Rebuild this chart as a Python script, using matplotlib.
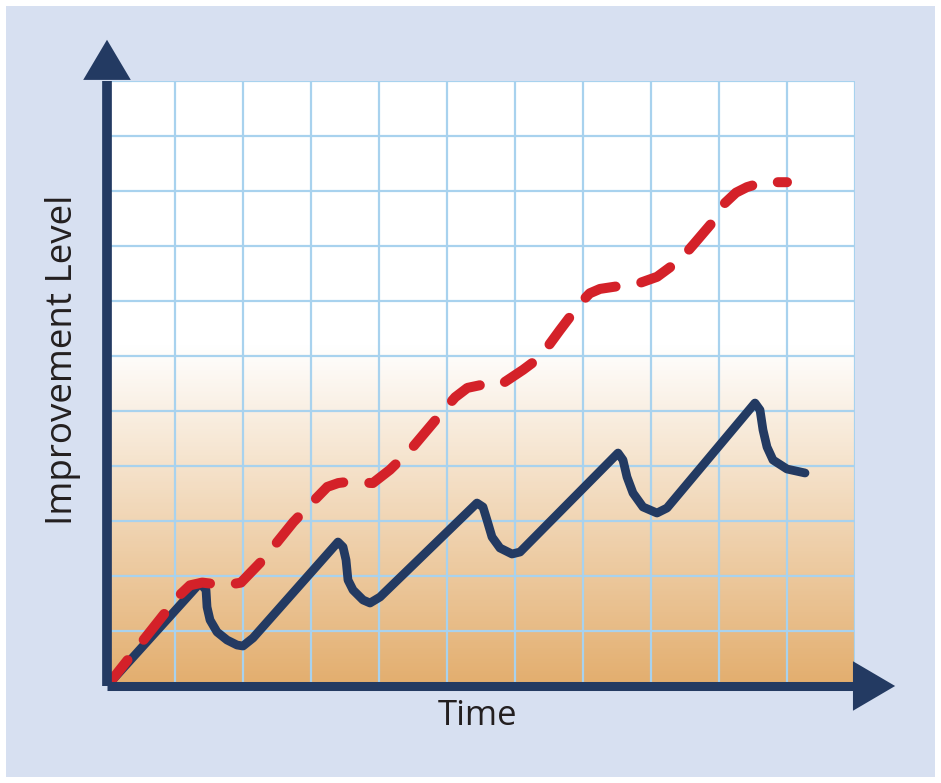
import matplotlib
matplotlib.use("Agg")
import matplotlib.pyplot as plt
import numpy as np
from matplotlib.patches import Rectangle, Polygon
from matplotlib.colors import LinearSegmentedColormap

# ---- data (grid units) ----
solid_x = [0.0, 1.368, 1.456, 1.471, 1.515, 1.618, 1.765, 1.912, 2.0, 2.147,
           3.397, 3.471, 3.515, 3.544, 3.618, 3.765, 3.868, 4.015,
           5.441, 5.529, 5.588, 5.662, 5.779, 5.956, 6.074,
           7.515, 7.588, 7.647, 7.735, 7.882, 8.088, 8.235,
           9.529, 9.603, 9.647, 9.706, 9.794, 10.0, 10.265]
solid_y = [0.0, 1.873, 1.745, 1.436, 1.2, 0.982, 0.836, 0.745, 0.727, 0.873,
           2.618, 2.527, 2.291, 1.927, 1.745, 1.564, 1.509, 1.618,
           3.327, 3.255, 3.018, 2.709, 2.509, 2.4, 2.436,
           4.236, 4.109, 3.8, 3.509, 3.255, 3.145, 3.236,
           5.145, 5.018, 4.655, 4.345, 4.109, 3.945, 3.873]

dash_x = [0.0, 1.04, 1.22, 1.40, 1.74, 1.97, 2.29, 2.74, 2.94, 3.24, 3.40, 3.53,
          3.91, 4.16, 4.46, 4.93, 5.12, 5.30, 5.49, 5.78, 6.12, 6.37, 6.66,
          6.96, 7.10, 7.25, 7.84, 8.09, 8.43, 8.62, 8.91, 9.06, 9.25, 9.41,
          9.65, 10.0]
dash_y = [0.0, 1.62, 1.83, 1.88, 1.83, 1.88, 2.29, 2.98, 3.24, 3.62, 3.69, 3.71,
          3.69, 3.93, 4.29, 4.98, 5.25, 5.42, 5.47, 5.47, 5.75, 5.98, 6.47,
          6.96, 7.14, 7.22, 7.33, 7.44, 7.75, 8.02, 8.44, 8.75, 8.97, 9.07,
          9.16, 9.16]

x_label = "Time"
y_label = "Improvement Level"
n_cells = 11

NAVY = "#233a62"
RED = "#d42129"
GRID = "#a8d2ee"
PANEL = "#d7e0f1"

W, H = 941, 783
fig = plt.figure(figsize=(W / 100, H / 100), dpi=100, facecolor="white")
panel = Rectangle((6 / W, 6 / H), (935 - 6) / W, (777 - 6) / H,
                  transform=fig.transFigure, facecolor=PANEL,
                  edgecolor="none", zorder=-10)
fig.add_artist(panel)

ax = fig.add_axes([107 / W, (H - 686) / H, 748 / W, 605 / H])
ax.set_zorder(1)
ax.set_xlim(0, n_cells)
ax.set_ylim(0, n_cells)
ax.set_facecolor("white")

# gradient background
cmap = LinearSegmentedColormap.from_list(
    "g", [(0.0, "#e3ae6e"), (6.2 / n_cells, "#ffffff"), (1.0, "#ffffff")])
grad = np.linspace(0, 1, 400).reshape(-1, 1)
ax.imshow(grad, cmap=cmap, aspect="auto", origin="lower",
          extent=[0, n_cells, 0, n_cells], zorder=0)

# grid
for k in range(1, n_cells + 1):
    ax.axvline(k, color=GRID, lw=1.6, zorder=1)
    ax.axhline(k, color=GRID, lw=1.6, zorder=1)

for s in ax.spines.values():
    s.set_visible(False)
ax.set_xticks([])
ax.set_yticks([])

# series
ax.plot(solid_x, solid_y, color=NAVY, lw=6.3, solid_joinstyle="round",
        solid_capstyle="round", zorder=3)
ln, = ax.plot(dash_x, dash_y, color=RED, lw=7.2, dash_capstyle="round",
              dash_joinstyle="round", zorder=4)
ln.set_dashes([3.3, 2.6])

# axes lines with arrows
ax.plot([0, 0], [0, n_cells], color=NAVY, lw=7, solid_capstyle="butt",
        clip_on=False, zorder=5)
ax.plot([0, n_cells], [0, 0], color=NAVY, lw=6.5, solid_capstyle="butt",
        clip_on=False, zorder=5)
ax.add_patch(Polygon([[-0.35, n_cells + 0.02], [0.35, n_cells + 0.02], [0, n_cells + 0.75]],
                     closed=True, facecolor=NAVY, edgecolor="none",
                     clip_on=False, zorder=6))
ax.add_patch(Polygon([[n_cells - 0.03, -0.45], [n_cells - 0.03, 0.45], [n_cells + 0.59, 0]],
                     closed=True, facecolor=NAVY, edgecolor="none",
                     clip_on=False, zorder=6))

fig.text(478 / W, 1 - 716 / H, x_label, ha="center", va="center",
         fontsize=25, family="Open Sans", color="#231f20")
fig.text(63 / W, 1 - 360 / H, y_label, ha="center", va="center", rotation=90,
         fontsize=26.5, family="Open Sans", color="#231f20")

fig.savefig("out.png", dpi=100, facecolor="white")
